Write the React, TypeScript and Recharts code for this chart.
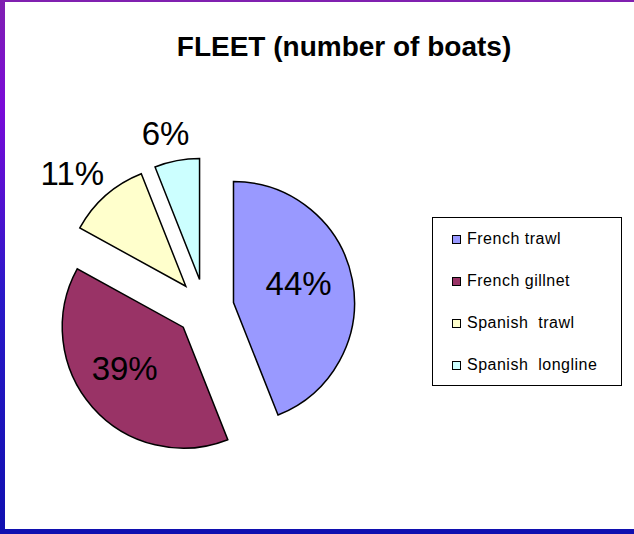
import React from 'react';
import { PieChart, Pie, Cell, Sector, Legend } from 'recharts';

// Fleet composition
const categories = ['French trawl', 'French gillnet', 'Spanish  trawl', 'Spanish  longline'];
const shares = [44, 39, 11, 6];
const COLORS = ['#9999FF', '#993366', '#FFFFCC', '#CCFFFF'];

const data = categories.map((name, i) => ({ name, value: shares[i] }));

const RADIAN = Math.PI / 180;
const EXPLODE = 29;
const LABEL_SIZE = 33;
const FONT = '"Liberation Sans", Arial, sans-serif';

// every slice pulled out along its mid angle
const ExplodedSector = (props: any) => {
    const { cx, cy, midAngle } = props;
    const dx = EXPLODE * Math.cos(-midAngle * RADIAN);
    const dy = EXPLODE * Math.sin(-midAngle * RADIAN);
    return <Sector {...props} cx={cx + dx} cy={cy + dy} stroke="#000" strokeWidth={1.5} />;
};

const renderLabel = (props: any) => {
    const { cx, cy, midAngle, outerRadius, percent } = props;
    const text = `${Math.round(percent * 100)}%`;
    const cos = Math.cos(-midAngle * RADIAN);
    const sin = Math.sin(-midAngle * RADIAN);
    let x: number;
    let y: number;
    if (percent > 0.2) {
        const r = EXPLODE + outerRadius * 0.59;
        x = cx + r * cos;
        y = cy + r * sin;
    } else {
        // outside: text box sits beyond the slice edge
        const r = EXPLODE + outerRadius + 10;
        const w = LABEL_SIZE * (0.556 * (text.length - 1) + 0.889);
        const h = LABEL_SIZE * 0.72;
        x = cx + r * cos + (w / 2) * cos;
        y = cy + r * sin + (h / 2) * sin;
    }
    return (
        <text x={x - 5} y={y - 6} textAnchor="middle" dominantBaseline="central" fill="#000" fontSize={LABEL_SIZE} fontFamily={FONT}>
            {text}
        </text>
    );
};

const LegendBox = () => (
    <div style={{ width: 188, height: 167, border: '1.5px solid #000', background: '#fff', fontFamily: FONT, boxSizing: 'content-box' }}>
        {data.map((d, i) => (
            <div key={d.name} style={{ position: 'absolute', left: 20, top: 14 + i * 42, height: 16, display: 'flex', alignItems: 'center', fontSize: 16, letterSpacing: 0.5, whiteSpace: 'pre', color: '#000' }}>
                <span style={{ display: 'inline-block', width: 7, height: 7, background: COLORS[i], border: '1.5px solid #000', marginRight: 6 }} />
                {d.name}
            </div>
        ))}
    </div>
);

export default function App() {
    return (
        <div style={{ position: 'absolute', left: 0, top: 0, width: 634, height: 534, background: '#fff', overflow: 'hidden' }}>
            <div style={{ position: 'absolute', left: 0, top: 0, width: 634, height: 2, background: '#8020B0' }} />
            <div style={{ position: 'absolute', left: 0, top: 0, width: 5, height: 534, background: 'linear-gradient(#8020B0, #7A0AD8 20%, #2A18C8 55%, #1010B0)' }} />
            <div style={{ position: 'absolute', left: 0, top: 529, width: 634, height: 5, background: '#1010B0' }} />
            <div style={{ position: 'absolute', left: 0, top: 31, width: 688, textAlign: 'center', fontFamily: FONT, fontWeight: 'bold', fontSize: 28, color: '#000' }}>
                FLEET (number of boats)
            </div>
            <div style={{ position: 'absolute', left: 0, top: 0 }}>
                <PieChart width={634} height={534}>
                    <Pie
                        data={data}
                        dataKey="value"
                        cx={200}
                        cy={303}
                        outerRadius={121}
                        startAngle={90}
                        endAngle={-270}
                        labelLine={false}
                        label={renderLabel}
                        shape={ExplodedSector}
                        inactiveShape={ExplodedSector}
                        activeShape={ExplodedSector}
                        isAnimationActive={false}
                    >
                        {data.map((entry, index) => (
                            <Cell key={`cell-${index}`} fill={COLORS[index]} />
                        ))}
                    </Pie>
                    <Legend
                        content={<LegendBox />}
                        wrapperStyle={{ left: 432, top: 217, width: 191, height: 170 }}
                    />
                </PieChart>
            </div>
        </div>
    );
}
